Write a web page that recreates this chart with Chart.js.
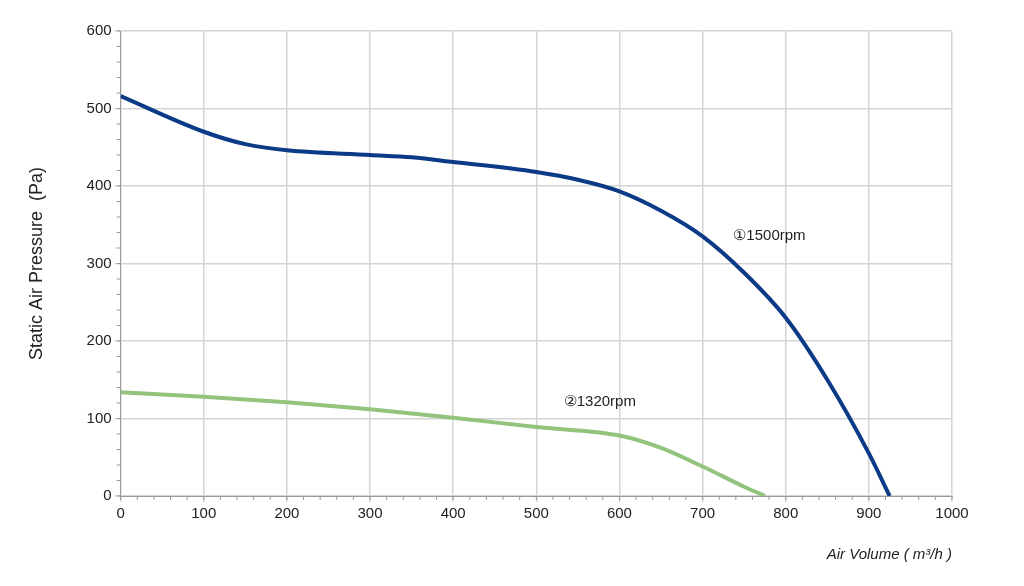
<!DOCTYPE html>
<html><head><meta charset="utf-8">
<script src="https://cdn.jsdelivr.net/npm/chart.js@4"></script>
<style>html,body{margin:0;background:#fff}#w{width:1024px;height:586px}</style>
</head><body><div id="w"><canvas id="c"></canvas></div>
<script>
const seriesNames=['①1500rpm','②1320rpm'];
const volume1500=[0,100,150,200,300,350,400,500,550,600,650,700,750,800,850,900,925];
const pressure1500=[516,470,454,446,440,437,431,418,408,393,368,335,288,230,150,55,0];
const volume1320=[0,100,200,300,400,500,600,650,700,750,775];
const pressure1320=[134,128,121,112,101,89,78,62,38,12,0];
const labelPos=[[737,336],[533,121]];
const pts=(x,y)=>x.map((v,i)=>({x:v,y:y[i]}));
const extras={id:'extras',afterDatasetsDraw(ch){
 const c=ch.ctx,xs=ch.scales.x,ys=ch.scales.y;
 c.save();c.fillStyle='#222';c.font='15px "Liberation Sans", Arial';c.textBaseline='middle';
 seriesNames.forEach((n,i)=>c.fillText(n,xs.getPixelForValue(labelPos[i][0]),ys.getPixelForValue(labelPos[i][1])));
 c.strokeStyle='#999';c.lineWidth=1;
 for(let v=0;v<=1000;v+=20){const p=xs.getPixelForValue(v);c.beginPath();c.moveTo(p,ys.bottom);c.lineTo(p,ys.bottom+4);c.stroke();}
 for(let v=0;v<=600;v+=20){const p=ys.getPixelForValue(v);c.beginPath();c.moveTo(xs.left-4,p);c.lineTo(xs.left,p);c.stroke();}
 c.restore();}};
new Chart(document.getElementById('c'),{type:'scatter',
 data:{datasets:[
  {data:pts(volume1500,pressure1500),showLine:true,borderColor:'#0b3a86',borderWidth:4,pointRadius:0,cubicInterpolationMode:'monotone'},
  {data:pts(volume1320,pressure1320),showLine:true,borderColor:'#93c47d',borderWidth:4,pointRadius:0,cubicInterpolationMode:'monotone'}]},
 options:{responsive:true,maintainAspectRatio:false,animation:false,
  layout:{padding:{left:22,right:72,top:31,bottom:0}},
  plugins:{legend:{display:false},tooltip:{enabled:false}},
  scales:{
   x:{min:0,max:1000,ticks:{stepSize:100,callback:v=>String(v),color:'#222',font:{size:15,family:'"Liberation Sans", Arial'}},
      grid:{color:'#d4d4d4',lineWidth:1.5,tickLength:6},border:{color:'#999'},
      title:{display:true,text:'Air Volume ( m³/h )',align:'end',color:'#222',padding:{top:20,bottom:22},font:{size:15,style:'italic',family:'"Liberation Sans", Arial'}}},
   y:{min:0,max:600,ticks:{stepSize:100,color:'#222',font:{size:15,family:'"Liberation Sans", Arial'}},
      grid:{color:'#d4d4d4',lineWidth:1.5,tickLength:6},border:{color:'#999'},
      title:{display:true,text:'Static Air Pressure  (Pa)',color:'#222',padding:{top:4,bottom:36},font:{size:18,family:'"Liberation Sans", Arial'}}}}},
 plugins:[extras]});
</script></body></html>
